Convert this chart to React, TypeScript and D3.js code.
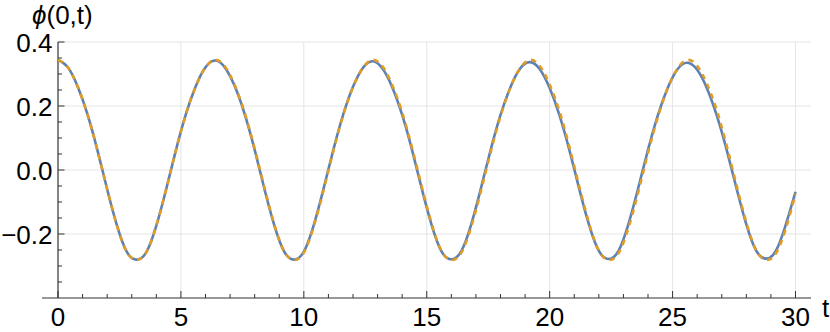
import React from "react";
import * as d3 from "d3";

// sample times (step 0.4) from 0 to 30
const tValues: number[] = Array.from({ length: 76 }, (_, i) => +(i * 0.4).toFixed(1));

// blue solid series
const phiBlue: number[] = [
  0.344, 0.321, 0.261, 0.174, 0.063, -0.060, -0.174, -0.256, -0.280, -0.256, -0.174, -0.060, 0.063, 0.174, 0.261, 0.321,
  0.342, 0.319, 0.260, 0.173, 0.063, -0.060, -0.173, -0.255, -0.280, -0.255, -0.173, -0.059, 0.063, 0.173, 0.260, 0.319,
  0.340, 0.317, 0.258, 0.172, 0.063, -0.059, -0.172, -0.254, -0.279, -0.254, -0.172, -0.058, 0.063, 0.172, 0.258, 0.317,
  0.337, 0.315, 0.256, 0.171, 0.063, -0.058, -0.171, -0.253, -0.278, -0.253, -0.170, -0.057, 0.063, 0.171, 0.256, 0.315,
  0.335, 0.313, 0.255, 0.170, 0.063, -0.057, -0.170, -0.252, -0.277, -0.253, -0.172, -0.068,
];

// orange dashed series
const phiOrange: number[] = [
  0.344, 0.321, 0.261, 0.174, 0.063, -0.060, -0.174, -0.256, -0.281, -0.256, -0.174, -0.060, 0.063, 0.174, 0.261, 0.321,
  0.344, 0.323, 0.263, 0.177, 0.067, -0.056, -0.171, -0.254, -0.281, -0.258, -0.177, -0.064, 0.059, 0.171, 0.259, 0.319,
  0.344, 0.324, 0.265, 0.180, 0.070, -0.053, -0.168, -0.253, -0.281, -0.259, -0.180, -0.067, 0.056, 0.168, 0.257, 0.318,
  0.344, 0.325, 0.267, 0.183, 0.073, -0.050, -0.166, -0.252, -0.281, -0.260, -0.182, -0.070, 0.053, 0.165, 0.255, 0.317,
  0.344, 0.326, 0.269, 0.186, 0.076, -0.047, -0.164, -0.251, -0.281, -0.261, -0.185, -0.074,
];

const xMajorTicks: number[] = [0, 5, 10, 15, 20, 25, 30];
const xTickLabels: string[] = ["0", "5", "10", "15", "20", "25", "30"];
const yMajorTicks: number[] = [-0.2, 0.0, 0.2, 0.4];
const yTickLabels: string[] = ["\u22120.2", "0.0", "0.2", "0.4"];
const xMinorStep = 1;
const yMinorStep = 0.05;

const W = 830;
const H = 332;
const FONT = "'Liberation Sans', Arial, sans-serif";

export default function App() {
  const x = d3.scaleLinear().domain([0, 30]).range([58, 795.5]);
  const y = d3.scaleLinear().domain([-0.4, 0.4]).range([298, 42]);

  const plotLeft = 42;
  const plotRight = 811;
  const plotTop = 42;
  const plotBottom = 298;

  const line = d3
    .line<number>()
    .x((_, i) => x(tValues[i]))
    .y((d) => y(d))
    .curve(d3.curveNatural);

  const xMinor = d3.range(0, 30 + 1e-9, xMinorStep).filter((v) => Math.abs(v % 5) > 1e-6);
  const yMinor = d3
    .range(-0.4, 0.4 + 1e-9, yMinorStep)
    .filter((v) => Math.abs(Math.round(v / 0.2) * 0.2 - v) > 1e-6);

  const grid = "#e5e5e5";

  return (
    <svg
      width={W}
      height={H}
      style={{ position: "absolute", left: 0, top: 0, background: "#fff" }}
      fontFamily={FONT}
    >
      {/* grid */}
      {xMajorTicks.filter((v) => v !== 0).map((v) => (
        <line key={"gx" + v} x1={x(v)} x2={x(v)} y1={plotTop} y2={plotBottom} stroke={grid} strokeWidth={1} />
      ))}
      {yMajorTicks.map((v) => (
        <line key={"gy" + v} x1={x(0)} x2={plotRight} y1={y(v)} y2={y(v)} stroke={grid} strokeWidth={1} />
      ))}

      {/* axes */}
      <line x1={plotLeft} x2={plotRight} y1={plotBottom} y2={plotBottom} stroke="#333" strokeWidth={1.2} />
      <line x1={x(0)} x2={x(0)} y1={plotTop} y2={plotBottom} stroke="#333" strokeWidth={1.2} />

      {/* x ticks */}
      {xMajorTicks.map((v) => (
        <line key={"xt" + v} x1={x(v)} x2={x(v)} y1={plotBottom} y2={plotBottom - 7} stroke="#333" strokeWidth={1} />
      ))}
      {xMinor.map((v) => (
        <line key={"xm" + v} x1={x(v)} x2={x(v)} y1={plotBottom} y2={plotBottom - 4} stroke="#333" strokeWidth={1} />
      ))}
      {/* y ticks */}
      {yMajorTicks.map((v) => (
        <line key={"yt" + v} x1={x(0)} x2={x(0) + 6.5} y1={y(v)} y2={y(v)} stroke="#333" strokeWidth={1} />
      ))}
      {yMinor.map((v) => (
        <line key={"ym" + v.toFixed(2)} x1={x(0)} x2={x(0) + 4} y1={y(v)} y2={y(v)} stroke="#333" strokeWidth={1} />
      ))}

      {/* tick labels */}
      {xMajorTicks.map((v, i) => (
        <text key={"xl" + v} x={x(v)} y={326} textAnchor="middle" fontSize={26} fill="#000">
          {xTickLabels[i]}
        </text>
      ))}
      {yMajorTicks.map((v, i) => (
        <text key={"yl" + v} x={52.5} y={y(v) + 9.5} textAnchor="end" fontSize={26} fill="#000">
          {yTickLabels[i]}
        </text>
      ))}

      {/* axis labels */}
      <text x={32} y={24} fontSize={26} fill="#000">
        <tspan fontStyle="italic">ϕ</tspan>
        <tspan>(0,t)</tspan>
      </text>
      <text x={822} y={317} fontSize={26} fill="#000">t</text>

      {/* curves */}
      <path d={line(phiBlue) || ""} fill="none" stroke="#5E81B5" strokeWidth={2.6} />
      <path
        d={line(phiOrange) || ""}
        fill="none"
        stroke="#E19C24"
        strokeWidth={2.6}
        strokeDasharray="5.5,5"
      />
    </svg>
  );
}
